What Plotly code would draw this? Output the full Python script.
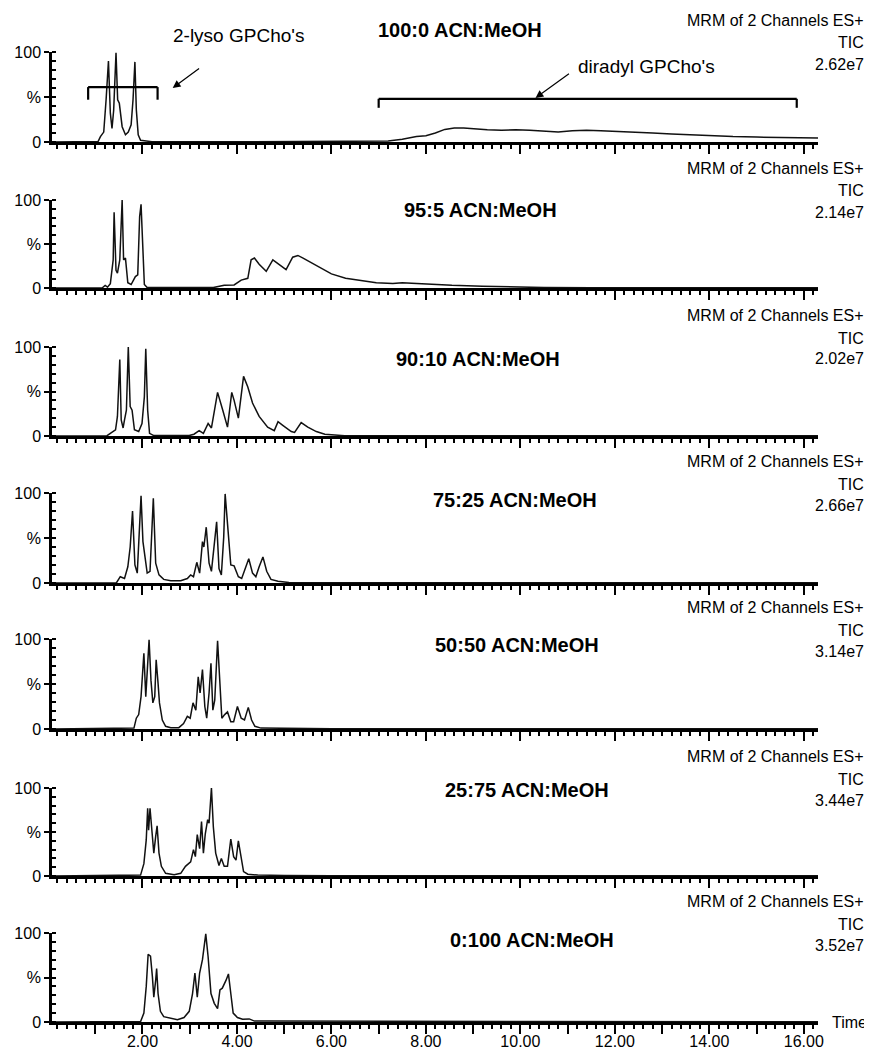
import plotly.graph_objects as go

# ---------------- data (time [min], relative intensity [%]) ----------------
run_labels = ["100:0 ACN:MeOH", "95:5 ACN:MeOH", "90:10 ACN:MeOH", "75:25 ACN:MeOH",
              "50:50 ACN:MeOH", "25:75 ACN:MeOH", "0:100 ACN:MeOH"]
tic_values = ["2.62e7", "2.14e7", "2.02e7", "2.66e7", "3.14e7", "3.44e7", "3.52e7"]
x_tick_vals = list(range(1, 17))
x_tick_text = ["" if v % 2 else f"{v:.2f}" for v in x_tick_vals]

trace_100_0 = [(0.1, 0), (1.0, 0.3), (1.06, 0.5), (1.11, 6), (1.18, 11), (1.23, 47), (1.28, 90),
               (1.32, 32), (1.355, 15), (1.39, 35), (1.44, 99), (1.475, 47), (1.51, 43), (1.57, 17),
               (1.64, 8), (1.70, 11), (1.76, 19), (1.80, 47), (1.84, 89), (1.87, 36), (1.91, 8),
               (1.96, 2), (2.06, 1), (2.2, 0.3), (4.0, 0.3), (6.0, 0.4), (6.8, 0.5), (7.2, 1),
               (7.5, 3), (7.8, 6), (8.0, 7), (8.2, 10), (8.4, 14), (8.6, 15.5), (8.8, 15.5),
               (9.0, 14.5), (9.3, 13.5), (9.6, 13), (9.9, 13.5), (10.2, 13), (10.5, 12), (10.8, 11),
               (11.1, 12.5), (11.4, 13), (11.7, 12.5), (12.0, 12), (12.4, 11), (12.8, 10), (13.2, 9),
               (13.6, 8), (14.0, 7), (14.5, 6), (15.0, 5.5), (15.5, 5), (16.0, 4.5), (16.3, 4.5)]

trace_95_5 = [(0.1, 0), (1.15, 0.3), (1.21, 3), (1.26, 1), (1.32, 5), (1.38, 32), (1.40, 86),
              (1.44, 20), (1.47, 17), (1.52, 32), (1.57, 100), (1.60, 32), (1.64, 34), (1.69, 6),
              (1.76, 4), (1.85, 13), (1.90, 15), (1.94, 81), (1.97, 95), (2.01, 32), (2.04, 4),
              (2.10, 0.5), (3.0, 0.3), (3.5, 0.5), (3.73, 3), (3.94, 3.5), (4.09, 9), (4.23, 11),
              (4.30, 32), (4.37, 34), (4.47, 27), (4.62, 19), (4.76, 32), (4.90, 27), (5.04, 21),
              (5.18, 35), (5.29, 37), (5.40, 34), (5.57, 29), (5.8, 22), (6.0, 16), (6.3, 11),
              (6.65, 8), (6.95, 6), (7.3, 5), (7.5, 6), (7.7, 5.5), (8.1, 4), (8.55, 3), (9.2, 2),
              (9.8, 1), (10.5, 0.5), (11.5, 0.3), (16.3, 0.3)]

trace_90_10 = [(0.1, 0), (1.25, 0.3), (1.32, 3), (1.43, 7), (1.47, 22), (1.52, 86), (1.55, 18),
               (1.59, 9), (1.62, 18), (1.66, 29), (1.70, 100), (1.74, 33), (1.78, 29), (1.83, 7),
               (1.92, 5), (1.99, 14), (2.04, 44), (2.07, 98), (2.11, 29), (2.15, 3), (2.24, 0.5),
               (2.99, 0.5), (3.09, 2), (3.20, 6), (3.29, 3), (3.39, 14), (3.46, 9), (3.59, 49),
               (3.70, 29), (3.80, 10), (3.89, 49), (3.94, 40), (4.03, 20), (4.14, 67), (4.23, 55),
               (4.33, 37), (4.47, 22), (4.65, 10), (4.79, 6), (4.87, 16), (4.97, 12), (5.15, 5),
               (5.22, 4), (5.36, 15), (5.50, 10), (5.68, 5), (5.86, 2), (6.07, 1), (6.28, 0.3),
               (16.3, 0.2)]

trace_75_25 = [(0.1, 0), (1.45, 0.3), (1.53, 7), (1.62, 5), (1.69, 18), (1.74, 40), (1.79, 80),
               (1.84, 20), (1.89, 11), (1.93, 48), (1.97, 97), (2.01, 46), (2.04, 33), (2.10, 11),
               (2.16, 13), (2.19, 44), (2.23, 94), (2.28, 22), (2.35, 9), (2.45, 4), (2.60, 2.5),
               (2.81, 2.5), (2.95, 5), (3.02, 9), (3.08, 7), (3.15, 23), (3.21, 11), (3.27, 46),
               (3.30, 40), (3.35, 62), (3.41, 22), (3.46, 13), (3.52, 48), (3.57, 68), (3.62, 16),
               (3.67, 9), (3.72, 51), (3.75, 99), (3.80, 66), (3.87, 20), (3.94, 19), (4.03, 7),
               (4.10, 5), (4.18, 16), (4.25, 27), (4.33, 11), (4.40, 7), (4.47, 18), (4.55, 29),
               (4.63, 13), (4.72, 4), (4.87, 2), (5.1, 0.5), (16.3, 0.2)]

trace_50_50 = [(0.1, 0), (1.75, 0.3), (1.82, 1), (1.87, 12), (1.92, 16), (1.97, 36), (2.03, 84),
               (2.07, 36), (2.11, 69), (2.14, 99), (2.18, 54), (2.22, 29), (2.26, 36), (2.29, 77),
               (2.33, 51), (2.36, 29), (2.42, 10), (2.49, 3), (2.60, 1.5), (2.77, 1.5), (2.87, 6),
               (2.95, 14), (3.01, 12), (3.07, 29), (3.13, 21), (3.18, 58), (3.22, 40), (3.27, 66),
               (3.32, 25), (3.36, 12), (3.41, 40), (3.45, 73), (3.49, 21), (3.53, 32), (3.59, 98),
               (3.64, 51), (3.68, 12), (3.74, 16), (3.80, 19), (3.87, 8), (3.93, 8), (4.01, 25),
               (4.09, 12), (4.16, 10), (4.24, 24), (4.31, 10), (4.38, 3), (4.51, 1), (4.94, 0.8),
               (6.0, 0.4), (16.3, 0.2)]

trace_25_75 = [(0.1, 0), (1.9, 0.3), (1.96, 1), (2.03, 14), (2.08, 41), (2.11, 77), (2.13, 52),
               (2.16, 77), (2.21, 41), (2.24, 26), (2.28, 45), (2.31, 57), (2.35, 26), (2.40, 11),
               (2.49, 3), (2.67, 1.5), (2.81, 3), (2.91, 11), (3.02, 16), (3.08, 30), (3.12, 22),
               (3.16, 47), (3.21, 31), (3.25, 62), (3.29, 26), (3.33, 48), (3.38, 64), (3.41, 60),
               (3.46, 100), (3.50, 56), (3.55, 26), (3.62, 12), (3.67, 20), (3.73, 11), (3.80, 11),
               (3.87, 42), (3.93, 22), (3.98, 18), (4.03, 40), (4.09, 18), (4.14, 5), (4.23, 2),
               (4.44, 1), (5.0, 0.7), (6.0, 0.4), (16.3, 0.2)]

trace_0_100 = [(0.1, 0), (1.9, 0.2), (1.96, 0.5), (2.03, 10), (2.08, 40), (2.12, 76), (2.17, 74),
               (2.21, 51), (2.24, 28), (2.28, 47), (2.30, 60), (2.33, 32), (2.38, 12), (2.45, 6),
               (2.60, 4), (2.74, 2.5), (2.88, 5), (2.99, 12), (3.06, 32), (3.11, 55), (3.16, 28),
               (3.21, 55), (3.27, 70), (3.34, 99), (3.39, 73), (3.45, 32), (3.52, 21), (3.59, 15),
               (3.64, 36), (3.69, 38), (3.77, 47), (3.82, 54), (3.87, 32), (3.92, 10), (4.01, 5),
               (4.12, 3), (4.26, 3.5), (4.37, 1), (4.65, 1), (4.94, 1), (5.5, 0.5), (16.3, 0.3)]

traces = [trace_100_0, trace_95_5, trace_90_10, trace_75_25, trace_50_50, trace_25_75, trace_0_100]

# annotation geometry for the first run (time, %)
lyso_bracket = dict(t0=0.85, t1=2.32, level=61, foot=47)
diradyl_bracket = dict(t0=7.0, t1=15.85, level=48, foot=38)
lyso_arrow = dict(head=(2.64, 60), tail=(3.23, 83))
diradyl_arrow = dict(head=(10.32, 49), tail=(11.06, 77))

# ---------------- layout geometry (page pixels) ----------------
PAGE_W, PAGE_H = 872, 1053
OFF = 8                      # default body margin of the html page
W, H = PAGE_W - OFF, PAGE_H - OFF
X0_PX, X1_PX = 52, 818
T_MIN, T_MAX = 0.085, 16.3
panel_tops = [52, 200, 347, 493, 639, 788, 933]
panel_bases = [142, 288, 436, 583, 729, 876, 1022]
title_pos = [(460, 30), (480, 210), (478, 359), (515, 500), (517, 645), (527, 790), (532, 940)]
FONT = "Liberation Sans, Arial, Helvetica, sans-serif"

def px(xp):
    return (xp - OFF) / W

def py(yp):
    return 1 - (yp - OFF) / H

fig = go.Figure()
layout = dict(
    width=W, height=H, margin=dict(l=0, r=0, t=0, b=0),
    paper_bgcolor="white", plot_bgcolor="white", showlegend=False,
    font=dict(family=FONT, size=16, color="black"),
)

n = len(traces)
for i, tr in enumerate(traces):
    k = i + 1
    xs = [p[0] for p in tr]
    ys = [p[1] for p in tr]
    xa = "x" if k == 1 else f"x{k}"
    ya = "y" if k == 1 else f"y{k}"
    fig.add_trace(go.Scatter(x=xs, y=ys, mode="lines", xaxis=xa, yaxis=ya,
                             line=dict(color="#111111", width=1.5), hoverinfo="skip"))
    last = (k == n)
    layout[f"xaxis{'' if k == 1 else k}"] = dict(
        domain=[px(X0_PX), px(X1_PX)], anchor=ya, range=[T_MIN, T_MAX],
        showline=True, linewidth=2.5, linecolor="black", showgrid=False, zeroline=False,
        ticks="outside", ticklen=9, tickwidth=2, tickcolor="black",
        tickmode="array", tickvals=x_tick_vals, ticktext=x_tick_text,
        showticklabels=last, tickfont=dict(size=16, family=FONT), automargin=False,
        ticklabelstandoff=-6,
        minor=dict(tickmode="linear", tick0=0, dtick=0.2, ticks="outside", ticklen=4,
                   tickwidth=1.6, tickcolor="black", showgrid=False),
    )
    layout[f"yaxis{'' if k == 1 else k}"] = dict(
        domain=[py(panel_bases[i]), py(panel_tops[i])], anchor=xa, range=[0, 100],
        showline=True, linewidth=2.5, linecolor="black", showgrid=False, zeroline=False,
        ticks="outside", ticklen=5, tickwidth=2, tickcolor="black",
        tickmode="array", tickvals=[0, 50, 100], ticktext=["0", "%", "100"],
        tickfont=dict(size=16, family=FONT), automargin=False,
        minor=dict(tickmode="linear", tick0=0, dtick=10, ticks="inside", ticklen=4,
                   tickwidth=1.5, tickcolor="black", showgrid=False),
    )

fig.update_layout(**layout)

annotations = []
for i in range(n):
    tx, ty = title_pos[i]
    annotations.append(dict(x=px(tx), y=py(ty), xref="paper", yref="paper", showarrow=False,
                            text=f"<b>{run_labels[i]}</b>", xanchor="center", yanchor="middle",
                            font=dict(size=20, family=FONT, color="black")))
    top = panel_tops[i]
    for txt, off in (("MRM of 2 Channels ES+", -32), ("TIC", -9), (tic_values[i], 12)):
        annotations.append(dict(x=px(866), y=py(top + off), xref="paper", yref="paper",
                                showarrow=False, text=txt, xanchor="right", yanchor="middle",
                                font=dict(size=16, family=FONT, color="black")))

annotations.append(dict(x=px(830), y=py(panel_bases[-1]), xref="paper", yref="paper",
                        showarrow=False, text="Time", xanchor="left", yanchor="middle",
                        font=dict(size=16, family=FONT, color="black")))

# labels + arrows on first run
annotations.append(dict(x=px(171), y=py(36), xref="paper", yref="paper", showarrow=False,
                        text="2-lyso GPCho's", xanchor="left", yanchor="middle",
                        font=dict(size=19, family=FONT, color="black")))
annotations.append(dict(x=px(576), y=py(67), xref="paper", yref="paper", showarrow=False,
                        text="diradyl GPCho's", xanchor="left", yanchor="middle",
                        font=dict(size=19, family=FONT, color="black")))
for arr in (lyso_arrow, diradyl_arrow):
    annotations.append(dict(x=arr["head"][0], y=arr["head"][1], xref="x", yref="y",
                            ax=arr["tail"][0], ay=arr["tail"][1], axref="x", ayref="y",
                            text="", showarrow=True, arrowhead=2, arrowsize=1.3,
                            arrowwidth=1.2, arrowcolor="black"))

shapes = []
for b in (lyso_bracket, diradyl_bracket):
    shapes.append(dict(type="line", xref="x", yref="y", x0=b["t0"], x1=b["t1"],
                       y0=b["level"], y1=b["level"], line=dict(color="black", width=2.2)))
    for t in (b["t0"], b["t1"]):
        shapes.append(dict(type="line", xref="x", yref="y", x0=t, x1=t,
                           y0=b["foot"], y1=b["level"], line=dict(color="black", width=2.2)))

fig.update_layout(annotations=annotations, shapes=shapes)
fig.write_html("out.html")
